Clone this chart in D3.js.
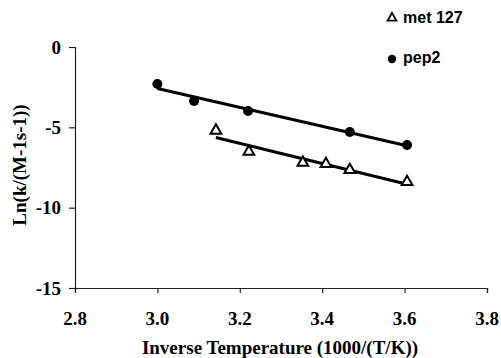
<!DOCTYPE html>
<html><head><meta charset="utf-8">
<script src="https://cdn.jsdelivr.net/npm/d3@7"></script>
<style>
body{margin:0;background:#fff}
.tlab{font-family:'Liberation Serif','Times New Roman',serif;font-weight:bold;font-size:19px;}
.leg{font-family:'Liberation Sans',Arial,sans-serif;font-weight:bold;font-size:16px;}
</style>
</head><body>
<svg id="c" width="501" height="358"></svg>
<script>
const pep2X = [3.0, 3.089, 3.22, 3.467, 3.606];
const pep2Y = [-2.30, -3.36, -3.98, -5.29, -6.10];
const metX = [3.142, 3.222, 3.353, 3.409, 3.467, 3.606];
const metY = [-5.20, -6.51, -7.20, -7.28, -7.65, -8.40];
const xTicks = [2.8, 3.0, 3.2, 3.4, 3.6, 3.8];
const yTicks = [0, -5, -10, -15];
const seriesNames = ["met 127", "pep2"];

const svg = d3.select("#c");
const x = d3.scaleLinear().domain([2.8, 3.8]).range([75, 487]);
const y = d3.scaleLinear().domain([-15, 0]).range([288, 47]);

function fit(xs, ys) {
  const n = xs.length, mx = d3.mean(xs), my = d3.mean(ys);
  let sxy = 0, sxx = 0;
  for (let i = 0; i < n; i++) { sxy += (xs[i]-mx)*(ys[i]-my); sxx += (xs[i]-mx)**2; }
  const b = sxy/sxx, a = my - b*mx;
  const x0 = d3.min(xs), x1 = d3.max(xs);
  return [[x0, a+b*x0], [x1, a+b*x1]];
}

// axes (lines and ticks)
const xa = svg.append("g").attr("transform", "translate(0,288)")
  .call(d3.axisBottom(x).tickValues(xTicks).tickFormat("").tickSizeOuter(0).tickSize(5));
const ya = svg.append("g").attr("transform", "translate(75,0)")
  .call(d3.axisLeft(y).tickValues(yTicks).tickFormat("").tickSizeOuter(0).tickSize(6));
[xa, ya].forEach(g => {
  g.selectAll("path,line").attr("stroke", "#222").attr("stroke-width", 1.2);
  g.selectAll("text").remove();
});

// tick labels
const fmt = d3.format(".1f");
svg.append("g").selectAll("text").data(xTicks).enter().append("text")
  .attr("class", "tlab").attr("x", d => x(d)).attr("y", 325).attr("text-anchor", "middle")
  .text(d => fmt(d));
svg.append("g").selectAll("text").data(yTicks).enter().append("text")
  .attr("class", "tlab").attr("x", 61).attr("y", d => y(d)).attr("dy", "0.35em").attr("text-anchor", "end")
  .text(d => d < 0 ? "-" + Math.abs(d) : d);

// axis titles
svg.append("text").attr("x", 280).attr("y", 354).attr("text-anchor", "middle").attr("class", "tlab")
  .text("Inverse Temperature (1000/(T/K))");
svg.append("text").attr("transform", "translate(26,165) rotate(-90)").attr("text-anchor", "middle").attr("class", "tlab")
  .text("Ln(k/(M-1s-1))");

// trend lines
const line = d3.line().x(d => x(d[0])).y(d => y(d[1]));
[[pep2X, pep2Y], [metX, metY]].forEach(([xs, ys]) => {
  svg.append("path").attr("d", line(fit(xs, ys))).attr("stroke", "#000").attr("stroke-width", 3).attr("fill", "none");
});

// points
svg.append("g").selectAll("circle").data(pep2X.map((v, i) => [v, pep2Y[i]])).enter().append("circle")
  .attr("cx", d => x(d[0])).attr("cy", d => y(d[1])).attr("r", 5).attr("fill", "#000");
const tri = d3.symbol().type(d3.symbolTriangle).size(50);
svg.append("g").selectAll("path").data(metX.map((v, i) => [v, metY[i]])).enter().append("path")
  .attr("d", tri).attr("transform", d => `translate(${x(d[0])},${y(d[1])})`)
  .attr("fill", "#fff").attr("stroke", "#000").attr("stroke-width", 2);

// legend
svg.append("path").attr("d", d3.symbol().type(d3.symbolTriangle).size(34)).attr("transform", "translate(392,18)")
  .attr("fill", "#fff").attr("stroke", "#000").attr("stroke-width", 1.8);
svg.append("circle").attr("cx", 392).attr("cy", 59).attr("r", 4.2).attr("fill", "#000");
svg.append("text").attr("x", 403).attr("y", 23).attr("class", "leg").text(seriesNames[0]);
svg.append("text").attr("x", 403).attr("y", 63).attr("class", "leg").text(seriesNames[1]);
</script>
</body></html>
